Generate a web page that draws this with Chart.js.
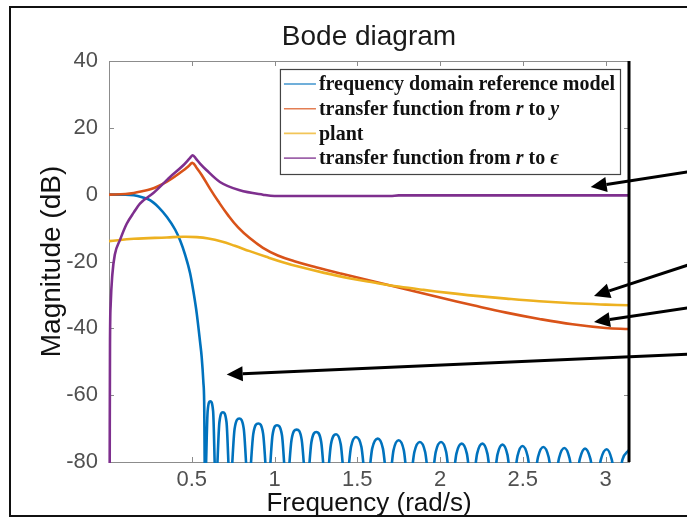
<!DOCTYPE html>
<html><head><meta charset="utf-8">
<script src="https://cdn.jsdelivr.net/npm/chart.js@4.4.1/dist/chart.umd.min.js"></script>
<style>html,body{margin:0;padding:0;background:#fff;}canvas{display:block;}</style>
</head><body>
<canvas id="c" width="687" height="518"></canvas>
<script>
const chartTitle = 'Bode diagram';
const xTitle = 'Frequency (rad/s)';
const yTitle = 'Magnitude (dB)';
const seriesNames = ['frequency domain reference model', 'transfer function from r to y', 'plant', 'transfer function from r to ϵ'];
const seriesColors = ['#0072BD', '#D95319', '#EDB120', '#7E2F8E'];
const mathSymbols = ['r', 'y', 'ϵ'];
const xTickValues = [0.5, 1, 1.5, 2, 2.5, 3];
const yTickValues = [-80, -60, -40, -20, 0, 20, 40];
const xMin = 0, xMax = 3.1416, yMin = -80, yMax = 40;

// frequency domain reference model
const refModelX = [0, 0.1, 0.15, 0.2, 0.25, 0.3, 0.35, 0.4, 0.43, 0.46, 0.49, 0.51, 0.53, 0.55, 0.56, 0.57, 0.575, 0.580,
 0.596, 0.612, 0.629, 0.645,
 0.667, 0.688, 0.710, 0.731,
 0.759, 0.787, 0.814, 0.842,
 0.872, 0.902, 0.931, 0.960,
 0.988, 1.015, 1.045, 1.073,
 1.103, 1.134, 1.164, 1.194,
 1.223, 1.252, 1.282, 1.311,
 1.341, 1.372, 1.400, 1.430,
 1.462, 1.492, 1.525, 1.557,
 1.590, 1.624, 1.655, 1.688,
 1.719, 1.750, 1.781, 1.812,
 1.845, 1.878, 1.910, 1.942,
 1.974, 2.006, 2.037, 2.068,
 2.099, 2.131, 2.162, 2.193,
 2.224, 2.256, 2.286, 2.317,
 2.347, 2.377, 2.407, 2.437,
 2.468, 2.498, 2.529, 2.560,
 2.592, 2.624, 2.656, 2.688,
 2.719, 2.751, 2.782, 2.813,
 2.845, 2.876, 2.908, 2.940,
 2.972, 3.007, 3.037, 3.070,
 3.102, 3.1416];
const refModelY = [0, 0, -0.2, -0.8, -1.7, -3.8, -6.7, -10.5, -13.7, -18, -23.5, -29, -35.5, -44, -48.6, -56, -62, -88,
 -64.8, -61.8, -64.8, -88,
 -68.1, -65.1, -68.1, -88,
 -70.0, -67.0, -70.0, -88,
 -71.5, -68.5, -71.5, -88,
 -72.0, -69.0, -72.0, -88,
 -73.3, -70.3, -73.3, -88,
 -74.0, -71.0, -74.0, -88,
 -74.7, -71.7, -74.7, -88,
 -75.5, -72.5, -75.5, -88,
 -76.0, -73.0, -76.0, -88,
 -76.5, -73.5, -76.5, -88,
 -77.0, -74.0, -77.0, -88,
 -77.0, -74.0, -77.0, -88,
 -77.5, -74.5, -77.5, -88,
 -77.5, -74.5, -77.5, -88,
 -77.8, -74.8, -77.8, -88,
 -78.2, -75.2, -78.2, -88,
 -78.5, -75.5, -78.5, -88,
 -78.8, -75.8, -78.8, -88,
 -79.0, -76.0, -79.0, -88,
 -79.2, -76.2, -79.2, -88,
 -79.3, -76.4];

// transfer function from r to y
const rToYX = [0, 0.1, 0.15, 0.2, 0.25, 0.3, 0.35, 0.4, 0.45, 0.48, 0.505, 0.53, 0.56, 0.61, 0.66, 0.72, 0.78, 0.85, 0.93, 1.02, 1.12, 1.25, 1.4, 1.55, 1.7, 1.85, 2.0, 2.2, 2.4, 2.6, 2.8, 3.0, 3.1416];
const rToYY = [0, 0.2, 0.5, 1.0, 1.6, 2.6, 3.9, 5.5, 7.3, 8.5, 9.5, 8.0, 5.9, 1.8, -2.0, -6.2, -9.8, -13.0, -15.9, -18.2, -19.9, -21.7, -23.6, -25.4, -27.2, -29.0, -30.8, -33.1, -35.3, -37.2, -38.8, -39.9, -40.2];

// plant
const plantX = [0, 0.15, 0.35, 0.45, 0.53, 0.6, 0.68, 0.76, 0.85, 0.95, 1.05, 1.15, 1.3, 1.45, 1.6, 1.75, 1.9, 2.05, 2.2, 2.4, 2.6, 2.8, 3.0, 3.1416];
const plantY = [-13.9, -13.2, -12.8, -12.6, -12.7, -13.1, -14.0, -15.3, -16.9, -18.6, -20.2, -21.6, -23.4, -25.0, -26.3, -27.5, -28.5, -29.4, -30.2, -31.1, -31.9, -32.5, -32.9, -33.1];

// transfer function from r to e
const rToEX = [0.004, 0.006, 0.01, 0.02, 0.035, 0.066, 0.107, 0.15, 0.187, 0.268, 0.369, 0.449, 0.49, 0.506, 0.525, 0.55, 0.59, 0.67, 0.79, 0.93, 1.0, 1.7, 1.75, 3.1416];
const rToEY = [-85, -45, -33, -24, -18, -13.6, -8.7, -5.3, -2.7, 0.5, 5.3, 8.8, 11.0, 11.8, 10.8, 9.3, 7.3, 3.8, 1.3, 0, -0.4, -0.4, -0.2, -0.2];

// annotation arrows (tail -> tip), in axis units
const arrowTailX = [3.571, 3.571, 3.571, 3.571];
const arrowTailY = [7.4, -19.9, -33.3, -47.6];
const arrowTipX = [2.91, 2.93, 2.93, 0.711];
const arrowTipY = [2.3, -30.3, -38.1, -53.8];

const seriesX = [refModelX, rToYX, plantX, rToEX];
const seriesY = [refModelY, rToYY, plantY, rToEY];
const seriesSmoothing = ['monotone', 'default', 'default', 'monotone'];

const sans = "'Liberation Sans', Arial, sans-serif";
const serif = "'Liberation Serif', 'Times New Roman', serif";

const decor = {
  id: 'decor',
  beforeDatasetsDraw(chart) {
    const {ctx, chartArea: a, scales: {x, y}} = chart;
    ctx.save();
    ctx.strokeStyle = '#8c8c8c';
    ctx.lineWidth = 1;
    ctx.beginPath();
    ctx.moveTo(a.left, a.top + 0.5); ctx.lineTo(a.right, a.top + 0.5);
    xTickValues.forEach(v => {
      const px = Math.round(x.getPixelForValue(v)) + 0.5;
      ctx.moveTo(px, a.top); ctx.lineTo(px, a.top + 5);
      ctx.moveTo(px, a.bottom); ctx.lineTo(px, a.bottom - 5);
    });
    yTickValues.forEach(v => {
      if (v === yMin || v === yMax) return;
      const py = Math.round(y.getPixelForValue(v)) + 0.5;
      ctx.moveTo(a.left, py); ctx.lineTo(a.left + 5, py);
      ctx.moveTo(a.right, py); ctx.lineTo(a.right - 5, py);
    });
    ctx.stroke();
    ctx.restore();
  },
  afterDatasetsDraw(chart) {
    const {ctx, chartArea: a} = chart;
    ctx.save();
    // right border of the axes
    ctx.strokeStyle = '#000';
    ctx.lineWidth = 3;
    ctx.beginPath();
    ctx.moveTo(a.right, a.top); ctx.lineTo(a.right, a.bottom);
    ctx.stroke();

    // legend
    const rowH = 24.7;
    const fontN = 'bold 20px ' + serif, fontI = 'italic bold 20px ' + serif;
    const parts = seriesNames.map(name => name.split(' ').map((w, i, arr) => ({t: w + (i < arr.length - 1 ? ' ' : ''), it: mathSymbols.includes(w)})));
    let maxW = 0;
    parts.forEach(p => {
      let w = 0;
      p.forEach(s => { ctx.font = s.it ? fontI : fontN; w += ctx.measureText(s.t).width; });
      maxW = Math.max(maxW, w);
    });
    const lineLen = 32;
    const boxW = 4 + lineLen + 4 + maxW + 4;
    const boxH = 105;
    const bx = a.right - 9 - boxW, by = a.top + 8;
    ctx.fillStyle = '#fff';
    ctx.fillRect(bx, by, boxW, boxH);
    ctx.strokeStyle = '#444';
    ctx.lineWidth = 1.2;
    ctx.strokeRect(bx + 0.5, by + 0.5, boxW, boxH);
    parts.forEach((p, i) => {
      const cy = by + 15 + i * rowH;
      ctx.strokeStyle = seriesColors[i];
      ctx.globalAlpha = 0.75;
      ctx.lineWidth = 1.6;
      ctx.beginPath(); ctx.moveTo(bx + 4, cy); ctx.lineTo(bx + 4 + lineLen, cy); ctx.stroke();
      ctx.globalAlpha = 1;
      let tx = bx + 4 + lineLen + 3;
      ctx.fillStyle = '#111';
      ctx.textBaseline = 'middle';
      ctx.textAlign = 'left';
      p.forEach(s => {
        ctx.font = s.it ? fontI : fontN;
        ctx.fillText(s.t, tx, cy + 1);
        tx += ctx.measureText(s.t).width;
      });
    });
    ctx.restore();
  },
  afterDraw(chart) {
    const {ctx, scales: {x, y}, width} = chart;
    ctx.save();
    // arrows
    ctx.strokeStyle = '#000';
    ctx.fillStyle = '#000';
    ctx.lineWidth = 3;
    arrowTipX.forEach((_, i) => {
      const x1 = x.getPixelForValue(arrowTailX[i]), y1 = y.getPixelForValue(arrowTailY[i]);
      const x2 = x.getPixelForValue(arrowTipX[i]), y2 = y.getPixelForValue(arrowTipY[i]);
      const ang = Math.atan2(y2 - y1, x2 - x1);
      const hl = 16, hw = 7.5;
      const bxp = x2 - hl * Math.cos(ang), byp = y2 - hl * Math.sin(ang);
      ctx.beginPath(); ctx.moveTo(x1, y1); ctx.lineTo(bxp, byp); ctx.stroke();
      ctx.beginPath();
      ctx.moveTo(x2, y2);
      ctx.lineTo(bxp - hw * Math.sin(ang), byp + hw * Math.cos(ang));
      ctx.lineTo(bxp + hw * Math.sin(ang), byp - hw * Math.cos(ang));
      ctx.closePath(); ctx.fill();
    });
    // outer frame
    ctx.strokeStyle = '#111';
    ctx.lineWidth = 2;
    ctx.beginPath();
    ctx.moveTo(width + 5, 7); ctx.lineTo(10, 7); ctx.lineTo(10, 516); ctx.lineTo(width + 5, 516);
    ctx.stroke();
    ctx.restore();
  }
};

const datasets = seriesNames.map((name, i) => ({
  label: name,
  data: seriesX[i].map((v, j) => ({x: v, y: seriesY[i][j]})),
  borderColor: seriesColors[i],
  borderWidth: 2.6,
  pointRadius: 0,
  fill: false,
  cubicInterpolationMode: seriesSmoothing[i],
  tension: 0.4,
  clip: 1,
  order: 4 - i
}));

new Chart(document.getElementById('c'), {
  type: 'line',
  data: {datasets},
  plugins: [decor],
  options: {
    responsive: false,
    animation: false,
    devicePixelRatio: 1,
    layout: {padding: {left: 0, right: 58, top: 0, bottom: 0}},
    plugins: {
      legend: {display: false},
      tooltip: {enabled: false},
      title: {display: true, fullSize: false, text: chartTitle, color: '#1a1a1a', font: {family: sans, size: 28, weight: 'normal'}, padding: {top: 20, bottom: 7.4}}
    },
    scales: {
      x: {
        type: 'linear', position: 'bottom', min: xMin, max: xMax,
        afterBuildTicks: s => { s.ticks = xTickValues.map(v => ({value: v})); },
        afterFit: s => { s.height = 56; },
        grid: {display: false, drawTicks: false},
        border: {display: true, color: '#8c8c8c', width: 1},
        ticks: {color: '#505050', font: {family: sans, size: 22}, padding: 5, maxRotation: 0, autoSkip: false, callback: v => String(v)},
        title: {display: true, text: xTitle, color: '#111', font: {family: sans, size: 26}, padding: {top: 0, bottom: -1}}
      },
      y: {
        type: 'linear', position: 'left', min: yMin, max: yMax,
        afterBuildTicks: s => { s.ticks = yTickValues.map(v => ({value: v})); },
        afterFit: s => { s.width = 109; },
        grid: {display: false, drawTicks: false},
        border: {display: true, color: '#8c8c8c', width: 1},
        ticks: {color: '#505050', font: {family: sans, size: 22}, padding: 11, callback: v => String(v)},
        title: {display: true, text: yTitle, color: '#111', font: {family: sans, size: 28}, padding: {top: 35, bottom: 0}}
      }
    }
  }
});
</script>
</body></html>
